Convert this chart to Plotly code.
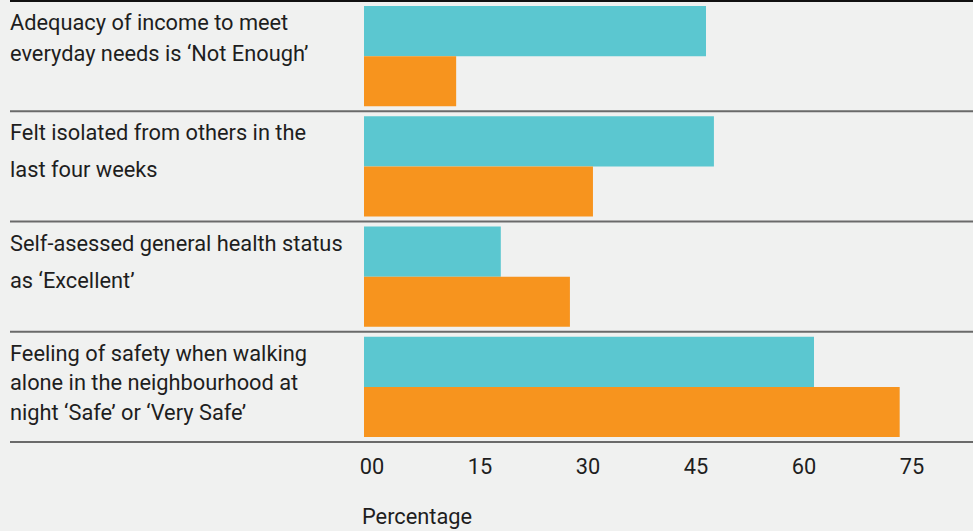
import plotly.graph_objects as go

# ---- data ----
label_lines = [
    ["Adequacy of income to meet", "everyday needs is ‘Not Enough’"],
    ["Felt isolated from others in the", "last four weeks"],
    ["Self-asessed general health status", "as ‘Excellent’"],
    ["Feeling of safety when walking", "alone in the neighbourhood at", "night ‘Safe’ or ‘Very Safe’"],
]
series_a = [47.5, 48.6, 19.0, 62.5]   # teal
series_b = [12.8, 31.8, 28.6, 74.4]   # orange
tick_vals = [0, 15, 30, 45, 60, 75]
tick_text = ["00", "15", "30", "45", "60", "75"]
axis_title = "Percentage"

# ---- styling ----
W, H = 973, 531
ML, MR, MT, MB = 364, 0, 1, 89
PW = W - ML - MR
PX_PER_UNIT = 7.2
BG = "#f0f1f0"
TEAL = "#5bc7d0"
ORANGE = "#f7941e"
FONT = "Roboto"
FS = 21.8
TXT = "#1e1e1e"
line_gaps = [31, 37, 37, 29.5]
first_top = 7

n = len(label_lines)
ypos = list(range(n))

fig = go.Figure()
fig.add_trace(go.Bar(y=ypos, x=series_a, orientation="h", marker=dict(color=TEAL, line=dict(width=0)),
                     showlegend=False))
fig.add_trace(go.Bar(y=ypos, x=series_b, orientation="h", marker=dict(color=ORANGE, line=dict(width=0)),
                     showlegend=False))

shapes = []
for k in range(n + 1):
    shapes.append(dict(type="line", xref="paper", yref="paper",
                       x0=(10 - ML) / PW, x1=1, y0=1 - k / n, y1=1 - k / n,
                       line=dict(color="#111111" if k == 0 else "#6a6a6a", width=2)))

annotations = []
for i, lines in enumerate(label_lines):
    off = first_top
    for j, t in enumerate(lines):
        annotations.append(dict(text=t, xref="paper", yref="paper", x=0, y=1 - i / n,
                                xanchor="left", yanchor="top", xshift=-(ML - 8), yshift=-off,
                                showarrow=False, align="left",
                                font=dict(family=FONT, size=FS, color=TXT)))
        off += line_gaps[i]

annotations.append(dict(text=axis_title, xref="paper", yref="paper", x=0, y=0,
                        xanchor="left", yanchor="middle", xshift=-4, yshift=-(516 - (H - MB)),
                        showarrow=False, font=dict(family=FONT, size=FS, color=TXT)))

fig.update_layout(
    width=W, height=H,
    margin=dict(l=ML, r=MR, t=MT, b=MB),
    paper_bgcolor=BG, plot_bgcolor=BG,
    barmode="group", bargap=0.09, bargroupgap=0,
    shapes=shapes, annotations=annotations,
    xaxis=dict(range=[0, PW / PX_PER_UNIT], tickvals=tick_vals, ticktext=tick_text,
               showgrid=False, zeroline=False, showline=False, ticks="",
               ticklabelshift=8, ticklabelstandoff=9,
               tickfont=dict(family=FONT, size=FS, color=TXT)),
    yaxis=dict(range=[n - 0.5, -0.5], showticklabels=False, showgrid=False,
               zeroline=False, showline=False, ticks=""),
)

fig.write_html("out.html")
